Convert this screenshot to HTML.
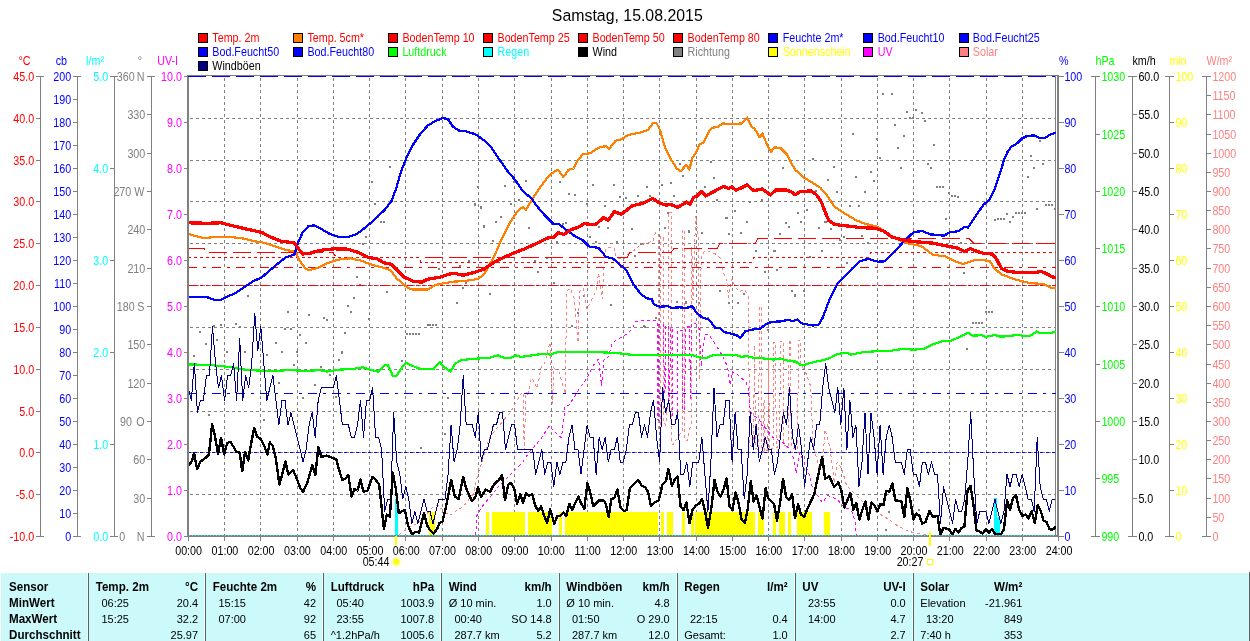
<!DOCTYPE html><html><head><meta charset="utf-8"><title>Samstag, 15.08.2015</title>
<style>html,body{margin:0;padding:0;background:#fff;overflow:hidden}svg{display:block;will-change:transform}text{font-family:"Liberation Sans",sans-serif;font-size:11px}.s{font-size:12px}.b{font-weight:bold;font-size:12px}.t{font-size:17px}</style></head><body>
<svg width="1250" height="641" viewBox="0 0 1250 641">
<rect width="1250" height="641" fill="#fff"/>
<text class="t" transform="translate(627.3,21.0) scale(0.934,1)" text-anchor="middle" fill="#000">Samstag, 15.08.2015</text>
<rect x="198.5" y="33.5" width="9" height="9" fill="#f00" stroke="#000" stroke-width="1" shape-rendering="crispEdges"/>
<text class="s" transform="translate(212.3,42.0) scale(0.895,1)" fill="#f00">Temp. 2m</text>
<rect x="293.6" y="33.5" width="9" height="9" fill="#ff8000" stroke="#000" stroke-width="1" shape-rendering="crispEdges"/>
<text class="s" transform="translate(307.4,42.0) scale(0.895,1)" fill="#f00">Temp. 5cm*</text>
<rect x="388.6" y="33.5" width="9" height="9" fill="#f00" stroke="#000" stroke-width="1" shape-rendering="crispEdges"/>
<text class="s" transform="translate(402.4,42.0) scale(0.895,1)" fill="#f00">BodenTemp 10</text>
<rect x="483.7" y="33.5" width="9" height="9" fill="#f00" stroke="#000" stroke-width="1" shape-rendering="crispEdges"/>
<text class="s" transform="translate(497.5,42.0) scale(0.895,1)" fill="#f00">BodenTemp 25</text>
<rect x="578.7" y="33.5" width="9" height="9" fill="#f00" stroke="#000" stroke-width="1" shape-rendering="crispEdges"/>
<text class="s" transform="translate(592.5,42.0) scale(0.895,1)" fill="#f00">BodenTemp 50</text>
<rect x="673.8" y="33.5" width="9" height="9" fill="#f00" stroke="#000" stroke-width="1" shape-rendering="crispEdges"/>
<text class="s" transform="translate(687.6,42.0) scale(0.895,1)" fill="#f00">BodenTemp 80</text>
<rect x="768.9" y="33.5" width="9" height="9" fill="#00f" stroke="#000" stroke-width="1" shape-rendering="crispEdges"/>
<text class="s" transform="translate(782.7,42.0) scale(0.895,1)" fill="#00f">Feuchte 2m*</text>
<rect x="863.9" y="33.5" width="9" height="9" fill="#00f" stroke="#000" stroke-width="1" shape-rendering="crispEdges"/>
<text class="s" transform="translate(877.7,42.0) scale(0.895,1)" fill="#00f">Bod.Feucht10</text>
<rect x="959.0" y="33.5" width="9" height="9" fill="#00f" stroke="#000" stroke-width="1" shape-rendering="crispEdges"/>
<text class="s" transform="translate(972.8,42.0) scale(0.895,1)" fill="#00f">Bod.Feucht25</text>
<rect x="198.5" y="47.5" width="9" height="9" fill="#00f" stroke="#000" stroke-width="1" shape-rendering="crispEdges"/>
<text class="s" transform="translate(212.3,56.0) scale(0.895,1)" fill="#00f">Bod.Feucht50</text>
<rect x="293.6" y="47.5" width="9" height="9" fill="#00f" stroke="#000" stroke-width="1" shape-rendering="crispEdges"/>
<text class="s" transform="translate(307.4,56.0) scale(0.895,1)" fill="#00f">Bod.Feucht80</text>
<rect x="388.6" y="47.5" width="9" height="9" fill="#0f0" stroke="#000" stroke-width="1" shape-rendering="crispEdges"/>
<text class="s" transform="translate(402.4,56.0) scale(0.895,1)" fill="#0f0">Luftdruck</text>
<rect x="483.7" y="47.5" width="9" height="9" fill="#0ff" stroke="#000" stroke-width="1" shape-rendering="crispEdges"/>
<text class="s" transform="translate(497.5,56.0) scale(0.895,1)" fill="#0ff">Regen</text>
<rect x="578.7" y="47.5" width="9" height="9" fill="#000" stroke="#000" stroke-width="1" shape-rendering="crispEdges"/>
<text class="s" transform="translate(592.5,56.0) scale(0.895,1)" fill="#000">Wind</text>
<rect x="673.8" y="47.5" width="9" height="9" fill="#808080" stroke="#000" stroke-width="1" shape-rendering="crispEdges"/>
<text class="s" transform="translate(687.6,56.0) scale(0.895,1)" fill="#808080">Richtung</text>
<rect x="768.9" y="47.5" width="9" height="9" fill="#ff0" stroke="#000" stroke-width="1" shape-rendering="crispEdges"/>
<text class="s" transform="translate(782.7,56.0) scale(0.895,1)" fill="#ff0">Sonnenschein</text>
<rect x="863.9" y="47.5" width="9" height="9" fill="#f0f" stroke="#000" stroke-width="1" shape-rendering="crispEdges"/>
<text class="s" transform="translate(877.7,56.0) scale(0.895,1)" fill="#f0f">UV</text>
<rect x="959.0" y="47.5" width="9" height="9" fill="#ff8080" stroke="#000" stroke-width="1" shape-rendering="crispEdges"/>
<text class="s" transform="translate(972.8,56.0) scale(0.895,1)" fill="#ff8080">Solar</text>
<rect x="198.5" y="61.5" width="9" height="9" fill="#000080" stroke="#000" stroke-width="1" shape-rendering="crispEdges"/>
<text class="s" transform="translate(212.3,70.0) scale(0.895,1)" fill="#000">Windböen</text>
<g shape-rendering="crispEdges">
<line x1="224.5" y1="78" x2="224.5" y2="535" stroke="#808080" stroke-dasharray="3,3"/>
<line x1="260.5" y1="78" x2="260.5" y2="535" stroke="#808080" stroke-dasharray="3,3"/>
<line x1="297.5" y1="78" x2="297.5" y2="535" stroke="#808080" stroke-dasharray="3,3"/>
<line x1="333.5" y1="78" x2="333.5" y2="535" stroke="#808080" stroke-dasharray="3,3"/>
<line x1="369.5" y1="78" x2="369.5" y2="535" stroke="#808080" stroke-dasharray="3,3"/>
<line x1="405.5" y1="78" x2="405.5" y2="535" stroke="#808080" stroke-dasharray="3,3"/>
<line x1="442.5" y1="78" x2="442.5" y2="535" stroke="#808080" stroke-dasharray="3,3"/>
<line x1="478.5" y1="78" x2="478.5" y2="535" stroke="#808080" stroke-dasharray="3,3"/>
<line x1="514.5" y1="78" x2="514.5" y2="535" stroke="#808080" stroke-dasharray="3,3"/>
<line x1="551.5" y1="78" x2="551.5" y2="535" stroke="#808080" stroke-dasharray="3,3"/>
<line x1="587.5" y1="78" x2="587.5" y2="535" stroke="#808080" stroke-dasharray="3,3"/>
<line x1="623.5" y1="78" x2="623.5" y2="535" stroke="#808080" stroke-dasharray="3,3"/>
<line x1="659.5" y1="78" x2="659.5" y2="535" stroke="#808080" stroke-dasharray="3,3"/>
<line x1="696.5" y1="78" x2="696.5" y2="535" stroke="#808080" stroke-dasharray="3,3"/>
<line x1="732.5" y1="78" x2="732.5" y2="535" stroke="#808080" stroke-dasharray="3,3"/>
<line x1="768.5" y1="78" x2="768.5" y2="535" stroke="#808080" stroke-dasharray="3,3"/>
<line x1="804.5" y1="78" x2="804.5" y2="535" stroke="#808080" stroke-dasharray="3,3"/>
<line x1="841.5" y1="78" x2="841.5" y2="535" stroke="#808080" stroke-dasharray="3,3"/>
<line x1="877.5" y1="78" x2="877.5" y2="535" stroke="#808080" stroke-dasharray="3,3"/>
<line x1="913.5" y1="78" x2="913.5" y2="535" stroke="#808080" stroke-dasharray="3,3"/>
<line x1="949.5" y1="78" x2="949.5" y2="535" stroke="#808080" stroke-dasharray="3,3"/>
<line x1="986.5" y1="78" x2="986.5" y2="535" stroke="#808080" stroke-dasharray="3,3"/>
<line x1="1022.5" y1="78" x2="1022.5" y2="535" stroke="#808080" stroke-dasharray="3,3"/>
<line x1="190" y1="494.5" x2="1056" y2="494.5" stroke="#808080" stroke-dasharray="3,3"/>
<line x1="190" y1="452.5" x2="1056" y2="452.5" stroke="#808080" stroke-dasharray="3,3"/>
<line x1="190" y1="411.5" x2="1056" y2="411.5" stroke="#808080" stroke-dasharray="3,3"/>
<line x1="190" y1="369.5" x2="1056" y2="369.5" stroke="#808080" stroke-dasharray="3,3"/>
<line x1="190" y1="327.5" x2="1056" y2="327.5" stroke="#808080" stroke-dasharray="3,3"/>
<line x1="190" y1="285.5" x2="1056" y2="285.5" stroke="#808080" stroke-dasharray="3,3"/>
<line x1="190" y1="243.5" x2="1056" y2="243.5" stroke="#808080" stroke-dasharray="3,3"/>
<line x1="190" y1="201.5" x2="1056" y2="201.5" stroke="#808080" stroke-dasharray="3,3"/>
<line x1="190" y1="160.5" x2="1056" y2="160.5" stroke="#808080" stroke-dasharray="3,3"/>
<line x1="190" y1="118.5" x2="1056" y2="118.5" stroke="#808080" stroke-dasharray="3,3"/>
<rect x="187" y="75" width="2" height="462" fill="#808080"/>
<line x1="187" y1="75.5" x2="1059" y2="75.5" stroke="#808080"/>
<line x1="1055.5" y1="75" x2="1055.5" y2="536" stroke="#808080"/>
<rect x="1057" y="75" width="2" height="462" fill="#808080"/>
</g>
<clipPath id="cp"><rect x="189" y="76" width="867" height="461"/></clipPath>
<g clip-path="url(#cp)" shape-rendering="crispEdges">
<g shape-rendering="crispEdges" fill="#ff0">
<rect x="429" y="512" width="6" height="24"/>
<rect x="486" y="512" width="3" height="24"/>
<rect x="492" y="512" width="33" height="24"/>
<rect x="528" y="512" width="24" height="24"/>
<rect x="559" y="512" width="3" height="24"/>
<rect x="565" y="512" width="93" height="24"/>
<rect x="661" y="512" width="3" height="24"/>
<rect x="667" y="512" width="6" height="24"/>
<rect x="682" y="512" width="3" height="24"/>
<rect x="691" y="512" width="3" height="24"/>
<rect x="695" y="512" width="60" height="24"/>
<rect x="758" y="512" width="6" height="24"/>
<rect x="773" y="512" width="3" height="24"/>
<rect x="779" y="512" width="6" height="24"/>
<rect x="788" y="512" width="3" height="24"/>
<rect x="797" y="512" width="15" height="24"/>
<rect x="824" y="512" width="6" height="24"/>
</g>
<g shape-rendering="crispEdges" fill="#0ff"><rect x="395" y="499" width="3" height="37"/><rect x="994" y="498" width="3" height="38"/><rect x="997" y="517" width="3" height="19"/></g>
<g shape-rendering="crispEdges" fill="#808080">
<rect x="389" y="166" width="2" height="2"/>
<rect x="371" y="181" width="2" height="2"/>
<rect x="374" y="203" width="2" height="2"/>
<rect x="377" y="216" width="2" height="2"/>
<rect x="380" y="221" width="2" height="2"/>
<rect x="383" y="221" width="2" height="2"/>
<rect x="477" y="186" width="2" height="2"/>
<rect x="474" y="204" width="2" height="2"/>
<rect x="480" y="207" width="2" height="2"/>
<rect x="374" y="203" width="2" height="2"/>
<rect x="380" y="221" width="2" height="2"/>
<rect x="383" y="221" width="2" height="2"/>
<rect x="365" y="236" width="2" height="2"/>
<rect x="362" y="243" width="2" height="2"/>
<rect x="356" y="276" width="2" height="2"/>
<rect x="359" y="284" width="2" height="2"/>
<rect x="386" y="291" width="2" height="2"/>
<rect x="353" y="297" width="2" height="2"/>
<rect x="347" y="305" width="2" height="2"/>
<rect x="350" y="311" width="2" height="2"/>
<rect x="368" y="318" width="2" height="2"/>
<rect x="247" y="295" width="2" height="2"/>
<rect x="287" y="311" width="2" height="2"/>
<rect x="308" y="314" width="2" height="2"/>
<rect x="323" y="317" width="2" height="2"/>
<rect x="326" y="319" width="2" height="2"/>
<rect x="199" y="331" width="2" height="2"/>
<rect x="213" y="325" width="2" height="2"/>
<rect x="220" y="324" width="2" height="2"/>
<rect x="235" y="323" width="2" height="2"/>
<rect x="239" y="326" width="2" height="2"/>
<rect x="216" y="339" width="2" height="2"/>
<rect x="205" y="343" width="2" height="2"/>
<rect x="284" y="328" width="2" height="2"/>
<rect x="290" y="328" width="2" height="2"/>
<rect x="299" y="334" width="2" height="2"/>
<rect x="275" y="342" width="2" height="2"/>
<rect x="281" y="351" width="2" height="2"/>
<rect x="305" y="342" width="2" height="2"/>
<rect x="244" y="351" width="2" height="2"/>
<rect x="344" y="332" width="2" height="2"/>
<rect x="341" y="352" width="2" height="2"/>
<rect x="427" y="324" width="2" height="2"/>
<rect x="429" y="324" width="2" height="2"/>
<rect x="432" y="324" width="2" height="2"/>
<rect x="435" y="324" width="2" height="2"/>
<rect x="406" y="333" width="2" height="2"/>
<rect x="409" y="333" width="2" height="2"/>
<rect x="412" y="333" width="2" height="2"/>
<rect x="415" y="333" width="2" height="2"/>
<rect x="418" y="333" width="2" height="2"/>
<rect x="438" y="268" width="2" height="2"/>
<rect x="459" y="265" width="2" height="2"/>
<rect x="468" y="260" width="2" height="2"/>
<rect x="471" y="271" width="2" height="2"/>
<rect x="465" y="282" width="2" height="2"/>
<rect x="462" y="287" width="2" height="2"/>
<rect x="456" y="302" width="2" height="2"/>
<rect x="474" y="203" width="2" height="2"/>
<rect x="480" y="206" width="2" height="2"/>
<rect x="483" y="225" width="2" height="2"/>
<rect x="193" y="355" width="2" height="2"/>
<rect x="226" y="351" width="2" height="2"/>
<rect x="266" y="354" width="2" height="2"/>
<rect x="281" y="351" width="2" height="2"/>
<rect x="296" y="351" width="2" height="2"/>
<rect x="278" y="382" width="2" height="2"/>
<rect x="302" y="397" width="2" height="2"/>
<rect x="314" y="384" width="2" height="2"/>
<rect x="329" y="374" width="2" height="2"/>
<rect x="335" y="396" width="2" height="2"/>
<rect x="401" y="360" width="2" height="2"/>
<rect x="447" y="397" width="2" height="2"/>
<rect x="420" y="447" width="2" height="2"/>
<rect x="444" y="433" width="2" height="2"/>
<rect x="450" y="425" width="2" height="2"/>
<rect x="263" y="419" width="2" height="2"/>
<rect x="208" y="414" width="2" height="2"/>
<rect x="341" y="351" width="2" height="2"/>
<rect x="338" y="359" width="2" height="2"/>
<rect x="305" y="342" width="2" height="2"/>
<rect x="320" y="366" width="2" height="2"/>
<rect x="293" y="364" width="2" height="2"/>
<rect x="504" y="185" width="2" height="2"/>
<rect x="513" y="181" width="2" height="2"/>
<rect x="525" y="180" width="2" height="2"/>
<rect x="510" y="203" width="2" height="2"/>
<rect x="518" y="199" width="2" height="2"/>
<rect x="480" y="207" width="2" height="2"/>
<rect x="500" y="216" width="2" height="2"/>
<rect x="495" y="221" width="2" height="2"/>
<rect x="483" y="226" width="2" height="2"/>
<rect x="492" y="240" width="2" height="2"/>
<rect x="528" y="227" width="2" height="2"/>
<rect x="559" y="181" width="2" height="2"/>
<rect x="568" y="193" width="2" height="2"/>
<rect x="574" y="194" width="2" height="2"/>
<rect x="565" y="222" width="2" height="2"/>
<rect x="562" y="223" width="2" height="2"/>
<rect x="592" y="184" width="2" height="2"/>
<rect x="586" y="203" width="2" height="2"/>
<rect x="604" y="205" width="2" height="2"/>
<rect x="589" y="236" width="2" height="2"/>
<rect x="598" y="226" width="2" height="2"/>
<rect x="607" y="227" width="2" height="2"/>
<rect x="613" y="184" width="2" height="2"/>
<rect x="619" y="196" width="2" height="2"/>
<rect x="625" y="197" width="2" height="2"/>
<rect x="637" y="195" width="2" height="2"/>
<rect x="616" y="242" width="2" height="2"/>
<rect x="631" y="228" width="2" height="2"/>
<rect x="646" y="186" width="2" height="2"/>
<rect x="661" y="184" width="2" height="2"/>
<rect x="670" y="182" width="2" height="2"/>
<rect x="673" y="195" width="2" height="2"/>
<rect x="682" y="175" width="2" height="2"/>
<rect x="679" y="163" width="2" height="2"/>
<rect x="710" y="161" width="2" height="2"/>
<rect x="713" y="177" width="2" height="2"/>
<rect x="704" y="186" width="2" height="2"/>
<rect x="701" y="190" width="2" height="2"/>
<rect x="716" y="199" width="2" height="2"/>
<rect x="725" y="217" width="2" height="2"/>
<rect x="734" y="210" width="2" height="2"/>
<rect x="746" y="221" width="2" height="2"/>
<rect x="728" y="233" width="2" height="2"/>
<rect x="740" y="232" width="2" height="2"/>
<rect x="701" y="232" width="2" height="2"/>
<rect x="688" y="231" width="2" height="2"/>
<rect x="664" y="227" width="2" height="2"/>
<rect x="749" y="201" width="2" height="2"/>
<rect x="761" y="199" width="2" height="2"/>
<rect x="755" y="250" width="2" height="2"/>
<rect x="489" y="293" width="2" height="2"/>
<rect x="537" y="271" width="2" height="2"/>
<rect x="553" y="282" width="2" height="2"/>
<rect x="534" y="260" width="2" height="2"/>
<rect x="546" y="257" width="2" height="2"/>
<rect x="583" y="295" width="2" height="2"/>
<rect x="577" y="312" width="2" height="2"/>
<rect x="571" y="325" width="2" height="2"/>
<rect x="610" y="304" width="2" height="2"/>
<rect x="634" y="255" width="2" height="2"/>
<rect x="676" y="301" width="2" height="2"/>
<rect x="685" y="302" width="2" height="2"/>
<rect x="698" y="302" width="2" height="2"/>
<rect x="707" y="317" width="2" height="2"/>
<rect x="643" y="325" width="2" height="2"/>
<rect x="655" y="317" width="2" height="2"/>
<rect x="719" y="290" width="2" height="2"/>
<rect x="737" y="302" width="2" height="2"/>
<rect x="743" y="293" width="2" height="2"/>
<rect x="755" y="250" width="2" height="2"/>
<rect x="764" y="271" width="2" height="2"/>
<rect x="773" y="250" width="2" height="2"/>
<rect x="767" y="329" width="2" height="2"/>
<rect x="616" y="241" width="2" height="2"/>
<rect x="640" y="243" width="2" height="2"/>
<rect x="595" y="241" width="2" height="2"/>
<rect x="556" y="241" width="2" height="2"/>
<rect x="492" y="240" width="2" height="2"/>
<rect x="882" y="93" width="2" height="2"/>
<rect x="891" y="93" width="2" height="2"/>
<rect x="906" y="111" width="2" height="2"/>
<rect x="915" y="109" width="2" height="2"/>
<rect x="921" y="112" width="2" height="2"/>
<rect x="909" y="117" width="2" height="2"/>
<rect x="912" y="117" width="2" height="2"/>
<rect x="924" y="120" width="2" height="2"/>
<rect x="894" y="124" width="2" height="2"/>
<rect x="903" y="135" width="2" height="2"/>
<rect x="897" y="147" width="2" height="2"/>
<rect x="876" y="138" width="2" height="2"/>
<rect x="852" y="133" width="2" height="2"/>
<rect x="879" y="157" width="2" height="2"/>
<rect x="900" y="167" width="2" height="2"/>
<rect x="933" y="144" width="2" height="2"/>
<rect x="927" y="163" width="2" height="2"/>
<rect x="930" y="167" width="2" height="2"/>
<rect x="870" y="171" width="2" height="2"/>
<rect x="873" y="180" width="2" height="2"/>
<rect x="864" y="191" width="2" height="2"/>
<rect x="855" y="176" width="2" height="2"/>
<rect x="833" y="166" width="2" height="2"/>
<rect x="827" y="179" width="2" height="2"/>
<rect x="836" y="191" width="2" height="2"/>
<rect x="812" y="158" width="2" height="2"/>
<rect x="782" y="167" width="2" height="2"/>
<rect x="815" y="190" width="2" height="2"/>
<rect x="849" y="205" width="2" height="2"/>
<rect x="858" y="205" width="2" height="2"/>
<rect x="806" y="209" width="2" height="2"/>
<rect x="797" y="212" width="2" height="2"/>
<rect x="785" y="222" width="2" height="2"/>
<rect x="800" y="221" width="2" height="2"/>
<rect x="824" y="221" width="2" height="2"/>
<rect x="936" y="186" width="2" height="2"/>
<rect x="939" y="186" width="2" height="2"/>
<rect x="942" y="186" width="2" height="2"/>
<rect x="948" y="192" width="2" height="2"/>
<rect x="951" y="195" width="2" height="2"/>
<rect x="954" y="195" width="2" height="2"/>
<rect x="957" y="196" width="2" height="2"/>
<rect x="945" y="218" width="2" height="2"/>
<rect x="994" y="219" width="2" height="2"/>
<rect x="997" y="218" width="2" height="2"/>
<rect x="1000" y="218" width="2" height="2"/>
<rect x="1003" y="218" width="2" height="2"/>
<rect x="1006" y="213" width="2" height="2"/>
<rect x="1009" y="221" width="2" height="2"/>
<rect x="1012" y="216" width="2" height="2"/>
<rect x="1015" y="212" width="2" height="2"/>
<rect x="1018" y="212" width="2" height="2"/>
<rect x="1021" y="212" width="2" height="2"/>
<rect x="1024" y="212" width="2" height="2"/>
<rect x="1036" y="208" width="2" height="2"/>
<rect x="1045" y="204" width="2" height="2"/>
<rect x="1048" y="204" width="2" height="2"/>
<rect x="1051" y="204" width="2" height="2"/>
<rect x="1054" y="208" width="2" height="2"/>
<rect x="1027" y="176" width="2" height="2"/>
<rect x="1033" y="167" width="2" height="2"/>
<rect x="1030" y="155" width="2" height="2"/>
<rect x="1042" y="163" width="2" height="2"/>
<rect x="1039" y="140" width="2" height="2"/>
<rect x="779" y="233" width="2" height="2"/>
<rect x="785" y="222" width="2" height="2"/>
<rect x="788" y="226" width="2" height="2"/>
<rect x="773" y="250" width="2" height="2"/>
<rect x="776" y="269" width="2" height="2"/>
<rect x="791" y="290" width="2" height="2"/>
<rect x="794" y="295" width="2" height="2"/>
<rect x="803" y="290" width="2" height="2"/>
<rect x="821" y="250" width="2" height="2"/>
<rect x="818" y="227" width="2" height="2"/>
<rect x="830" y="228" width="2" height="2"/>
<rect x="839" y="239" width="2" height="2"/>
<rect x="843" y="236" width="2" height="2"/>
<rect x="861" y="235" width="2" height="2"/>
<rect x="867" y="242" width="2" height="2"/>
<rect x="846" y="262" width="2" height="2"/>
<rect x="809" y="256" width="2" height="2"/>
<rect x="963" y="272" width="2" height="2"/>
<rect x="966" y="348" width="2" height="2"/>
<rect x="972" y="322" width="2" height="2"/>
<rect x="975" y="322" width="2" height="2"/>
<rect x="978" y="322" width="2" height="2"/>
<rect x="981" y="322" width="2" height="2"/>
<rect x="985" y="311" width="2" height="2"/>
<rect x="988" y="311" width="2" height="2"/>
<rect x="991" y="311" width="2" height="2"/>
<rect x="945" y="218" width="2" height="2"/>
<rect x="1036" y="208" width="2" height="2"/>
<rect x="960" y="242" width="2" height="2"/>
<rect x="888" y="511" width="2" height="2"/>
<rect x="885" y="529" width="2" height="2"/>
<rect x="918" y="509" width="2" height="2"/>
<rect x="637" y="195" width="2" height="2"/>
<rect x="649" y="195" width="2" height="2"/>
<rect x="673" y="195" width="2" height="2"/>
<rect x="667" y="212" width="2" height="2"/>
<rect x="664" y="227" width="2" height="2"/>
<rect x="631" y="228" width="2" height="2"/>
<rect x="688" y="230" width="2" height="2"/>
<rect x="701" y="232" width="2" height="2"/>
<rect x="634" y="255" width="2" height="2"/>
<rect x="716" y="199" width="2" height="2"/>
<rect x="726" y="217" width="2" height="2"/>
<rect x="734" y="210" width="2" height="2"/>
<rect x="746" y="221" width="2" height="2"/>
<rect x="740" y="232" width="2" height="2"/>
<rect x="728" y="233" width="2" height="2"/>
<rect x="761" y="199" width="2" height="2"/>
<rect x="785" y="222" width="2" height="2"/>
<rect x="788" y="226" width="2" height="2"/>
<rect x="779" y="233" width="2" height="2"/>
<rect x="797" y="212" width="2" height="2"/>
<rect x="800" y="221" width="2" height="2"/>
<rect x="806" y="209" width="2" height="2"/>
<rect x="818" y="227" width="2" height="2"/>
<rect x="825" y="221" width="2" height="2"/>
<rect x="755" y="250" width="2" height="2"/>
<rect x="774" y="250" width="2" height="2"/>
<rect x="764" y="271" width="2" height="2"/>
<rect x="776" y="269" width="2" height="2"/>
<rect x="809" y="256" width="2" height="2"/>
<rect x="821" y="250" width="2" height="2"/>
<rect x="791" y="290" width="2" height="2"/>
<rect x="794" y="294" width="2" height="2"/>
<rect x="719" y="290" width="2" height="2"/>
<rect x="737" y="302" width="2" height="2"/>
<rect x="728" y="302" width="2" height="2"/>
<rect x="676" y="301" width="2" height="2"/>
<rect x="685" y="301" width="2" height="2"/>
<rect x="698" y="302" width="2" height="2"/>
<rect x="707" y="317" width="2" height="2"/>
<rect x="655" y="317" width="2" height="2"/>
<rect x="644" y="326" width="2" height="2"/>
<rect x="767" y="329" width="2" height="2"/>
</g>
<path d="M398.8,535.0 L408.4,527.7 L418.0,522.9 L425.2,515.7 L432.4,507.3 L437.2,504.9 L449.2,515.7 L463.6,506.1 L473.2,494.1 L477.4,476.3 L489.4,437.8 L499.0,425.8 L511.0,411.4 L520.6,394.6 L523.0,392.0 L524.2,449.9 L526.0,392.0 L528.7,396.0 L529.5,383.2 L532.1,378.1 L537.2,388.3 L541.0,367.9 L544.9,362.8 L550.0,342.3 L552.5,403.7 L553.8,367.9 L559.0,372.0 L565.3,393.5 L566.6,291.2 L570.4,288.6 L574.3,298.8 L578.1,342.3 L579.4,291.2 L583.2,288.6 L587.1,309.0 L590.9,301.4 L596.0,291.2 L598.6,273.2 L602.4,298.8 L603.7,268.1 L606.2,247.7 L613.9,247.7 L616.5,257.9 L624.1,259.2 L629.3,252.8 L634.4,250.2 L640.2,245.0 L653.0,241.2 L655.6,232.2 L656.2,232.8 L658.1,233.0 L658.1,430.0 L660.9,430.0 L660.9,236.0 L663.4,238.0 L663.4,420.0 L665.5,425.0 L668.4,400.0 L668.4,212.0 L671.2,212.0 L671.2,440.0 L673.0,445.0 L682.5,430.0 L682.5,230.0 L684.3,230.0 L684.3,440.0 L687.5,440.0 L691.8,420.0 L691.8,247.0 L693.0,300.0 L695.6,216.0 L698.4,237.5 L699.3,380.0 L701.2,256.0 L705.0,250.6 L708.7,251.5 L716.2,254.3 L720.0,258.0 L723.7,273.0 L727.4,282.4 L728.3,297.4 L732.0,278.7 L734.9,286.1 L738.6,291.8 L744.3,289.9 L747.6,293.6 L748.5,300.0 L749.5,445.0 L753.5,448.0 L754.5,345.0 L755.5,448.0 L758.5,450.0 L759.5,306.0 L761.0,306.0 L762.0,450.0 L763.5,452.0 L764.0,400.0 L764.8,452.0 L767.8,450.0 L768.6,355.0 L769.4,450.0 L773.0,448.0 L774.0,342.0 L775.5,342.0 L776.3,448.0 L779.5,445.0 L780.5,341.0 L783.2,341.0 L784.0,445.0 L788.3,447.0 L789.2,340.0 L790.5,340.0 L791.2,447.0 L797.5,450.0 L798.5,340.0 L800.4,340.0 L801.0,364.5 L806.0,373.5 L810.6,386.0 L813.0,443.7 L819.0,468.0 L822.0,470.0 L825.1,429.4 L829.9,447.5 L834.4,483.0 L837.1,461.9 L841.9,469.1 L846.7,485.9 L861.1,500.3 L873.1,509.9 L885.1,517.1 L897.1,525.5 L909.1,531.5 L918.7,533.5 L926.0,535.0" fill="none" stroke="#ff8080" stroke-width="1" stroke-linejoin="round" stroke-dasharray="3,3" shape-rendering="crispEdges"/>
<path d="M475.7,535.0 L476.9,515.7 L479.3,510.9 L485.0,502.5 L489.4,497.9 L499.0,485.9 L511.0,473.9 L523.0,461.9 L529.0,452.3 L539.9,440.2 L549.5,425.8 L554.3,431.8 L561.5,437.8 L565.1,406.6 L568.7,405.4 L575.9,394.6 L579.4,388.3 L587.1,378.1 L593.5,365.3 L598.6,358.9 L601.6,385.8 L603.7,360.2 L608.8,356.4 L611.4,344.9 L616.5,339.7 L624.1,335.9 L631.8,329.5 L635.7,321.8 L643.1,320.5 L655.3,320.3 L657.0,322.0 L657.5,420.0 L658.5,420.0 L659.0,324.0 L663.7,324.0 L664.2,392.0 L665.3,392.0 L665.8,326.0 L668.2,326.0 L668.7,400.0 L669.8,400.0 L670.3,328.0 L672.0,328.0 L672.5,416.0 L677.5,416.0 L678.0,330.0 L682.3,330.0 L682.8,410.0 L684.8,410.0 L685.3,328.0 L689.8,326.0 L690.2,400.0 L690.8,400.0 L691.2,325.0 L695.6,323.1 L699.3,328.7 L701.2,366.2 L703.0,347.5 L705.0,334.3 L708.7,334.3 L716.2,345.6 L721.8,354.9 L727.4,366.2 L730.2,384.9 L732.1,371.8 L738.6,375.5 L746.1,382.1 L748.4,388.7 L749.9,407.4 L751.7,414.9 L759.2,418.6 L762.0,426.1 L762.8,424.6 L773.0,437.4 L783.2,442.5 L788.3,447.6 L793.5,457.9 L796.0,473.2 L799.8,452.8 L808.8,473.2 L811.8,485.9 L819.0,497.9 L822.7,502.7 L827.5,495.5 L837.1,499.1 L844.3,507.5 L851.5,509.9 L855.1,521.9 L856.3,535.1" fill="none" stroke="#f0f" stroke-width="1" stroke-linejoin="round" stroke-dasharray="3,3" shape-rendering="crispEdges"/>
<path d="M188.0,248.5 L204.0,248.5 L205.0,252.5 L333.0,252.5 L335.0,255.5 L335.5,255.5" fill="none" stroke="#f00" stroke-width="1" stroke-dasharray="18,6" shape-rendering="crispEdges"/>
<path d="M424.8,257.5 L627.0,257.5 L630.0,252.5 L671.0,252.5 L674.0,248.5 L717.0,248.5 L720.0,243.5 L755.0,243.5 L758.0,238.5 L969.0,238.5 L974.0,243.5 L1054.0,243.5 L1056.0,247.5 L1057.0,247.5" fill="none" stroke="#f00" stroke-width="1" stroke-dasharray="18,6" shape-rendering="crispEdges"/>
<path d="M188.0,257.5 L419.0,257.5 L421.0,262.5 L751.0,262.5 L754.0,257.5 L868.0,257.5 L871.0,252.5 L1057.0,252.5" fill="none" stroke="#f00" stroke-width="1" stroke-dasharray="3,3" shape-rendering="crispEdges"/>
<path d="M188.0,267.5 L1057.0,267.5" fill="none" stroke="#f00" stroke-width="1" stroke-dasharray="9,6,3,6" shape-rendering="crispEdges"/>
<path d="M188.0,285.5 L1057.0,285.5" fill="none" stroke="#f00" stroke-width="1" stroke-dasharray="9,3,3,3,3,3" shape-rendering="crispEdges"/>
<path d="M188.0,393.5 L1057.0,393.5" fill="none" stroke="#00f" stroke-width="1" stroke-dasharray="9,6,3,6" shape-rendering="crispEdges"/>
<path d="M188.0,452.5 L1057.0,452.5" fill="none" stroke="#00f" stroke-width="1" stroke-dasharray="3,3" shape-rendering="crispEdges"/>
<path d="M188.6,364.4 L209.0,364.9 L228.2,366.8 L245.1,369.7 L264.3,370.9 L276.3,371.3 L290.7,369.7 L302.7,371.3 L319.5,370.1 L326.7,371.6 L338.7,369.7 L353.1,368.9 L362.8,367.3 L370.0,369.7 L378.4,371.6 L384.4,365.3 L388.0,365.3 L392.8,375.7 L396.4,375.7 L401.2,368.5 L406.0,362.9 L410.8,365.3 L420.4,368.9 L433.6,368.9 L439.6,362.0 L444.4,367.3 L450.4,371.6 L455.2,363.7 L460.5,360.2 L473.2,358.9 L489.4,357.7 L497.8,355.3 L503.8,357.7 L511.0,357.7 L515.8,355.3 L520.6,357.0 L532.7,355.3 L544.7,353.6 L550.7,354.8 L556.7,352.4 L571.1,352.2 L585.5,352.4 L593.9,351.7 L602.3,352.4 L616.7,352.9 L631.1,354.8 L655.2,354.8 L674.4,354.8 L691.2,354.8 L698.4,357.2 L705.6,358.2 L712.8,355.3 L724.8,354.8 L736.8,355.3 L741.6,357.0 L746.4,356.0 L753.6,357.7 L763.2,358.4 L774.2,359.6 L779.3,358.5 L789.5,361.1 L795.9,361.6 L799.7,364.7 L804.9,364.7 L812.5,362.4 L822.8,360.3 L830.4,357.8 L838.1,353.9 L847.1,352.7 L850.9,354.5 L863.7,352.1 L875.5,351.3 L889.9,350.9 L903.1,348.9 L913.9,349.7 L923.5,348.9 L933.1,344.1 L942.8,341.2 L950.0,341.2 L959.6,336.9 L968.0,332.6 L972.8,335.7 L981.2,335.2 L986.0,336.9 L994.4,335.0 L999.2,336.4 L1005.2,336.4 L1017.2,335.0 L1029.2,336.4 L1036.4,331.6 L1041.2,333.3 L1050.8,332.8 L1056.4,331.6" fill="none" stroke="#0f0" stroke-width="2.2" stroke-linejoin="round" />
<path d="M188.6,234.1 L197.0,236.5 L205.4,238.4 L213.8,236.8 L228.2,236.8 L242.6,238.4 L254.7,241.3 L264.3,242.8 L276.3,246.8 L285.9,250.0 L295.5,251.6 L299.1,260.0 L305.1,268.0 L308.7,270.1 L317.1,268.0 L329.1,262.5 L341.1,258.9 L350.7,258.4 L360.4,260.5 L372.4,264.9 L382.0,267.3 L390.4,270.1 L396.4,278.1 L403.6,284.6 L410.8,289.4 L427.6,289.6 L434.8,285.3 L440.0,284.0 L452.8,281.7 L465.6,280.9 L478.4,278.9 L484.8,273.2 L491.2,261.7 L495.4,253.7 L501.4,239.3 L508.6,224.9 L517.0,211.7 L523.0,206.9 L525.9,210.0 L532.7,198.5 L539.9,187.7 L547.1,178.1 L551.9,173.3 L557.9,169.7 L563.4,176.9 L568.7,169.7 L573.5,168.5 L577.1,161.3 L583.1,154.0 L590.3,153.3 L598.7,147.6 L605.9,146.1 L609.0,149.2 L615.5,140.8 L621.5,139.2 L628.7,134.8 L640.7,132.4 L648.0,130.0 L652.8,123.3 L656.4,122.8 L660.0,130.0 L664.8,146.8 L670.8,158.9 L676.8,168.5 L680.4,171.3 L686.4,164.9 L689.3,169.7 L692.4,157.7 L696.0,152.8 L699.6,144.4 L703.2,142.8 L709.2,131.2 L712.8,127.6 L717.6,127.1 L722.4,123.5 L732.0,124.0 L741.6,123.5 L747.2,117.5 L751.2,126.4 L754.8,128.8 L759.6,137.2 L762.5,133.6 L766.9,144.4 L771.0,151.7 L774.6,147.3 L780.6,148.1 L786.6,154.1 L795.0,169.7 L804.6,178.1 L813.0,182.9 L820.3,187.7 L827.5,196.1 L834.7,206.9 L844.3,213.2 L856.3,220.4 L865.9,224.0 L877.9,226.9 L887.5,233.6 L897.1,238.9 L906.7,243.2 L921.1,246.1 L933.1,254.8 L945.2,256.4 L954.8,261.3 L963.2,264.1 L969.2,262.0 L976.4,259.6 L989.6,260.8 L994.4,268.5 L1001.6,274.5 L1014.8,279.3 L1029.2,282.9 L1043.6,284.1 L1050.8,287.7 L1056.4,288.2" fill="none" stroke="#ff8000" stroke-width="2.2" stroke-linejoin="round" />
<path d="M188.6,297.0 L206.6,297.0 L213.8,299.7 L221.0,299.7 L228.2,296.1 L235.4,293.2 L245.1,286.5 L252.3,281.7 L261.9,277.3 L269.1,270.9 L278.7,262.9 L285.9,257.2 L294.3,254.8 L297.9,243.2 L302.7,232.4 L308.7,225.9 L314.7,225.5 L321.9,229.3 L329.1,233.6 L338.7,236.8 L348.3,236.8 L356.8,234.1 L365.2,227.6 L370.0,223.6 L377.2,217.0 L384.4,210.1 L391.6,200.9 L396.4,187.7 L401.2,170.9 L406.0,158.9 L413.2,144.5 L420.4,133.7 L427.6,125.7 L434.8,121.2 L443.2,118.0 L448.0,119.2 L452.8,126.4 L458.8,130.5 L466.0,131.3 L475.7,134.4 L484.6,140.8 L491.8,148.0 L499.0,158.9 L507.4,170.9 L514.6,179.3 L523.0,191.3 L531.5,198.5 L537.5,206.9 L545.9,216.5 L553.1,223.7 L559.1,224.2 L567.5,230.9 L575.9,236.9 L583.1,240.5 L589.1,246.5 L598.7,248.0 L605.9,256.8 L613.1,258.7 L619.1,264.0 L626.3,270.0 L633.5,284.4 L640.7,294.0 L646.8,298.4 L651.6,298.9 L654.0,304.4 L660.0,306.8 L667.2,306.1 L672.0,308.0 L679.2,307.3 L686.4,308.0 L692.4,306.1 L696.0,312.1 L702.0,317.3 L709.2,319.7 L715.2,327.7 L720.0,327.7 L723.6,332.0 L729.6,333.2 L736.8,335.4 L740.4,338.0 L745.2,331.3 L753.6,329.4 L760.8,328.4 L765.0,324.9 L771.0,322.0 L781.8,321.3 L789.0,319.6 L792.6,321.3 L797.4,319.6 L801.0,323.2 L813.0,325.6 L819.0,324.4 L822.7,317.7 L829.9,298.5 L837.1,284.1 L841.9,278.8 L849.1,272.1 L859.9,261.3 L868.3,258.9 L877.9,261.7 L885.1,261.3 L894.7,251.6 L904.3,240.8 L913.9,231.9 L922.3,231.2 L930.7,234.4 L944.0,235.6 L950.0,232.4 L958.4,231.2 L964.4,226.9 L968.0,227.6 L976.4,214.8 L983.6,204.6 L989.6,199.7 L994.4,190.1 L999.2,175.7 L1004.0,160.1 L1007.6,151.7 L1011.2,146.9 L1017.2,143.3 L1022.0,138.5 L1026.8,136.1 L1034.0,135.3 L1038.8,137.7 L1044.8,138.0 L1049.6,134.9 L1055.7,132.9" fill="none" stroke="#00f" stroke-width="2.3" stroke-linejoin="round" />
<path d="M188.6,222.8 L206.6,223.3 L221.0,222.8 L233.0,225.9 L247.5,229.3 L261.9,232.4 L269.1,236.5 L281.1,241.3 L294.3,242.8 L297.9,248.0 L302.7,254.0 L309.9,253.3 L319.5,250.4 L333.9,248.8 L348.3,249.2 L358.0,252.4 L367.6,257.2 L377.2,258.9 L384.4,262.9 L391.6,264.4 L396.4,269.7 L403.6,276.9 L413.2,281.2 L421.6,282.2 L427.6,279.3 L439.6,277.3 L447.7,274.5 L454.1,273.2 L463.0,275.3 L473.2,272.7 L483.5,269.4 L493.7,262.5 L503.9,257.4 L514.2,252.8 L524.4,249.0 L535.1,244.1 L547.1,238.1 L554.3,236.9 L557.9,232.6 L563.9,234.5 L571.1,229.7 L578.3,227.3 L584.3,223.7 L595.1,224.9 L603.5,217.7 L608.3,220.1 L614.3,211.7 L621.5,214.1 L632.3,205.7 L643.1,203.3 L652.8,198.5 L660.0,203.3 L666.0,205.2 L670.8,204.5 L678.0,207.4 L686.4,202.1 L690.0,204.5 L693.6,197.3 L697.2,196.1 L702.0,191.3 L705.6,196.1 L715.2,190.8 L723.6,186.5 L728.4,188.4 L732.0,187.0 L735.6,190.1 L741.6,187.7 L747.2,184.8 L753.6,190.8 L762.0,188.9 L770.5,194.9 L775.8,190.1 L786.6,190.1 L791.4,191.8 L795.0,194.9 L799.8,191.8 L810.6,190.8 L816.6,194.9 L821.4,202.1 L825.1,212.0 L828.7,220.4 L834.7,224.5 L846.7,225.9 L861.1,227.6 L875.5,228.3 L883.9,231.2 L892.3,237.2 L904.3,240.4 L918.7,242.0 L933.1,243.2 L945.2,245.6 L957.2,248.0 L964.4,251.6 L970.4,248.5 L976.4,251.2 L983.6,253.3 L992.0,254.0 L995.6,257.6 L1001.6,268.5 L1007.6,271.3 L1019.6,272.8 L1031.6,272.8 L1041.2,271.6 L1046.0,273.3 L1052.0,276.9 L1056.4,277.6" fill="none" stroke="#f00" stroke-width="3.3" stroke-linejoin="round" />
<path d="M188.3,387.9 L191.3,400.3 L194.3,363.2 L197.4,412.6 L200.4,400.3 L203.4,400.3 L206.4,375.6 L209.4,375.6 L212.5,326.2 L215.5,363.2 L218.5,387.9 L221.5,375.6 L224.6,400.3 L227.6,375.6 L230.6,375.6 L233.6,363.2 L236.6,400.3 L239.7,338.6 L242.7,400.3 L245.7,375.6 L248.7,387.9 L251.7,363.2 L254.8,313.9 L257.8,350.9 L260.8,326.2 L263.8,363.2 L266.8,400.3 L269.9,387.9 L272.9,375.6 L275.9,400.3 L278.9,424.9 L282.0,400.3 L285.0,400.3 L288.0,424.9 L291.0,412.6 L294.0,424.9 L297.1,437.3 L300.1,449.6 L303.1,462.0 L306.1,449.6 L309.1,424.9 L312.2,412.6 L315.2,437.3 L318.2,400.3 L321.2,387.9 L324.2,387.9 L327.3,387.9 L330.3,387.9 L333.3,387.9 L336.3,375.6 L339.4,400.3 L342.4,424.9 L345.4,424.9 L348.4,424.9 L351.4,437.3 L354.5,437.3 L357.5,424.9 L360.5,400.3 L363.5,437.3 L366.5,400.3 L369.6,400.3 L372.6,387.9 L375.6,437.3 L378.6,437.3 L381.6,449.6 L384.7,511.3 L387.7,499.0 L390.7,499.0 L393.7,412.6 L396.7,462.0 L399.8,474.3 L402.8,499.0 L405.8,486.6 L408.8,499.0 L411.9,523.7 L414.9,511.3 L417.9,523.7 L420.9,511.3 L423.9,499.0 L427.0,511.3 L430.0,511.3 L433.0,523.7 L436.0,511.3 L439.0,499.0 L442.1,499.0 L445.1,499.0 L448.1,474.3 L451.1,424.9 L454.1,462.0 L457.2,449.6 L460.2,424.9 L463.2,375.6 L466.2,424.9 L469.3,424.9 L472.3,424.9 L475.3,437.3 L478.3,412.6 L481.3,462.0 L484.4,449.6 L487.4,449.6 L490.4,437.3 L493.4,424.9 L496.4,424.9 L499.5,412.6 L502.5,412.6 L505.5,449.6 L508.5,437.3 L511.5,424.9 L514.6,424.9 L517.6,449.6 L520.6,449.6 L523.6,449.6 L526.7,449.6 L529.7,449.6 L532.7,449.6 L535.7,474.3 L538.7,462.0 L541.8,449.6 L544.8,474.3 L547.8,462.0 L550.8,462.0 L553.8,486.6 L556.9,462.0 L559.9,474.3 L562.9,462.0 L565.9,462.0 L568.9,437.3 L572.0,424.9 L575.0,449.6 L578.0,449.6 L581.0,474.3 L584.1,449.6 L587.1,424.9 L590.1,437.3 L593.1,437.3 L596.1,474.3 L599.2,437.3 L602.2,449.6 L605.2,437.3 L608.2,462.0 L611.2,449.6 L614.3,449.6 L617.3,437.3 L620.3,462.0 L623.3,462.0 L626.3,449.6 L629.4,424.9 L632.4,424.9 L635.4,412.6 L638.4,412.6 L641.5,437.3 L644.5,424.9 L647.5,437.3 L650.5,412.6 L653.5,400.3 L656.6,437.3 L659.6,462.0 L662.6,387.9 L665.6,412.6 L668.6,400.3 L671.7,424.9 L674.7,424.9 L677.7,412.6 L680.7,474.3 L683.7,474.3 L686.8,462.0 L689.8,486.6 L692.8,462.0 L695.8,462.0 L698.8,462.0 L701.9,437.3 L704.9,474.3 L707.9,511.3 L710.9,462.0 L714.0,387.9 L717.0,437.3 L720.0,424.9 L723.0,424.9 L726.0,400.3 L729.1,400.3 L732.1,462.0 L735.1,412.6 L738.1,449.6 L741.1,449.6 L744.2,499.0 L747.2,474.3 L750.2,412.6 L753.2,449.6 L756.2,424.9 L759.3,462.0 L762.3,449.6 L765.3,437.3 L768.3,449.6 L771.4,449.6 L774.4,474.3 L777.4,462.0 L780.4,437.3 L783.4,412.6 L786.5,424.9 L789.5,387.9 L792.5,437.3 L795.5,449.6 L798.5,424.9 L801.6,449.6 L804.6,486.6 L807.6,462.0 L810.6,437.3 L813.6,449.6 L816.7,424.9 L819.7,424.9 L822.7,387.9 L825.7,363.2 L828.8,387.9 L831.8,400.3 L834.8,412.6 L837.8,387.9 L840.8,424.9 L843.9,387.9 L846.9,449.6 L849.9,400.3 L852.9,437.3 L855.9,424.9 L859.0,486.6 L862.0,462.0 L865.0,412.6 L868.0,474.3 L871.0,412.6 L874.1,437.3 L877.1,474.3 L880.1,424.9 L883.1,474.3 L886.2,437.3 L889.2,424.9 L892.2,437.3 L895.2,462.0 L898.2,462.0 L901.3,462.0 L904.3,474.3 L907.3,449.6 L910.3,449.6 L913.3,474.3 L916.4,474.3 L919.4,486.6 L922.4,462.0 L925.4,462.0 L928.4,474.3 L931.5,462.0 L934.5,474.3 L937.5,474.3 L940.5,523.7 L943.5,486.6 L946.6,499.0 L949.6,511.3 L952.6,523.7 L955.6,499.0 L958.7,511.3 L961.7,511.3 L964.7,499.0 L967.7,462.0 L970.7,412.6 L973.8,474.3 L976.8,523.7 L979.8,511.3 L982.8,511.3 L985.8,511.3 L988.9,523.7 L991.9,511.3 L994.9,499.0 L997.9,511.3 L1000.9,523.7 L1004.0,511.3 L1007.0,474.3 L1010.0,486.6 L1013.0,474.3 L1016.1,474.3 L1019.1,486.6 L1022.1,474.3 L1025.1,486.6 L1028.1,499.0 L1031.2,499.0 L1034.2,511.3 L1037.2,437.3 L1040.2,486.6 L1043.2,499.0 L1046.3,499.0 L1049.3,511.3 L1052.3,499.0 L1055.3,499.0" fill="none" stroke="#000080" stroke-width="1" stroke-linejoin="round" shape-rendering="crispEdges"/>
<path d="M188.6,465.2 L191.7,461.6 L194.1,453.2 L197.0,468.9 L200.6,461.6 L205.4,458.0 L209.0,454.4 L212.1,424.4 L215.0,436.4 L218.1,454.4 L221.0,437.6 L224.2,454.4 L227.0,443.6 L230.2,441.7 L233.0,446.0 L236.6,452.0 L239.8,452.8 L242.2,471.3 L245.1,452.0 L248.2,460.4 L251.1,443.6 L254.2,428.0 L257.1,436.9 L260.7,438.8 L264.3,446.0 L267.4,454.4 L269.8,442.4 L272.7,446.0 L275.8,458.0 L279.4,484.5 L282.3,473.7 L285.4,461.6 L288.3,474.4 L293.1,470.0 L296.7,478.5 L300.3,488.1 L303.2,491.7 L307.5,482.1 L312.3,465.2 L315.4,474.9 L318.3,447.2 L321.4,456.8 L326.7,455.6 L331.5,457.6 L336.3,459.2 L339.5,471.3 L342.3,479.7 L345.5,478.5 L348.3,474.9 L351.5,496.5 L354.3,489.3 L357.5,490.5 L360.4,479.7 L363.5,491.7 L367.6,490.5 L372.4,476.8 L375.5,479.7 L379.1,484.5 L381.5,506.1 L383.9,528.9 L386.8,514.5 L389.9,516.9 L392.8,472.5 L395.9,489.3 L398.8,513.3 L404.8,509.7 L407.9,525.3 L412.0,534.4 L415.1,532.0 L419.2,532.5 L424.0,512.8 L427.1,525.3 L430.0,530.1 L433.6,533.7 L437.2,528.9 L439.6,522.9 L442.5,521.7 L445.6,508.5 L448.7,492.9 L451.2,479.7 L454.8,496.5 L458.8,498.9 L463.2,476.8 L466.5,489.3 L472.0,501.3 L475.7,496.5 L478.1,487.1 L481.0,496.7 L485.8,489.5 L490.1,491.9 L493.0,485.9 L496.1,482.3 L499.0,479.9 L502.1,475.1 L505.0,500.3 L508.1,484.7 L511.0,483.0 L514.2,488.3 L517.0,503.9 L520.2,494.3 L523.0,502.7 L526.2,493.1 L529.0,495.5 L532.2,494.3 L535.1,505.1 L538.2,511.1 L541.1,506.3 L544.2,515.9 L547.1,523.1 L550.2,509.4 L554.3,523.8 L557.4,515.9 L560.3,515.9 L563.4,512.3 L566.3,515.9 L569.4,503.9 L572.3,509.9 L575.4,502.7 L578.3,496.7 L581.4,503.9 L584.3,508.7 L587.4,483.0 L590.3,493.1 L593.4,506.3 L599.4,500.3 L603.5,500.3 L605.9,503.9 L608.6,517.1 L611.4,499.1 L614.3,497.9 L617.4,489.5 L620.6,507.5 L623.9,511.1 L626.8,509.9 L629.9,488.3 L634.7,483.5 L638.3,479.9 L641.9,485.9 L645.1,487.1 L648.0,491.9 L651.1,506.3 L654.0,502.7 L658.8,500.3 L662.4,484.7 L666.0,481.1 L668.4,469.1 L672.0,485.9 L675.1,478.7 L677.5,476.3 L680.6,506.3 L683.5,509.9 L686.4,502.7 L689.5,523.1 L692.6,509.9 L696.0,505.1 L698.9,503.9 L702.0,499.1 L705.1,511.1 L708.0,527.9 L711.6,506.3 L714.5,479.9 L717.6,491.9 L720.5,496.7 L723.6,489.5 L726.5,478.2 L729.6,506.3 L732.5,509.9 L735.6,492.6 L738.5,502.7 L741.6,519.5 L744.8,523.1 L747.6,509.9 L750.8,481.1 L753.6,501.5 L756.5,495.5 L759.6,507.5 L762.5,518.3 L765.7,488.3 L768.1,497.9 L774.1,503.9 L777.0,520.7 L780.1,502.7 L783.0,478.7 L786.1,496.7 L789.0,500.3 L792.1,494.3 L795.0,518.3 L798.1,503.9 L801.0,514.7 L804.2,516.6 L807.0,509.9 L810.2,502.7 L814.2,494.3 L819.0,471.5 L822.2,457.1 L825.1,478.7 L829.4,476.3 L834.2,487.1 L838.3,482.3 L841.4,490.7 L844.3,507.5 L847.4,500.3 L850.3,493.1 L853.4,509.9 L856.3,502.7 L859.4,519.5 L862.3,509.9 L865.4,501.5 L868.3,519.5 L871.4,502.7 L874.3,505.1 L877.4,511.1 L880.3,503.9 L883.4,505.1 L886.3,490.7 L889.4,491.9 L892.3,483.5 L895.4,500.3 L901.4,501.5 L904.3,517.1 L907.4,488.3 L910.3,500.3 L913.4,519.5 L916.3,513.5 L919.5,515.9 L922.3,523.8 L925.5,521.9 L929.5,511.1 L933.1,517.1 L937.5,515.9 L940.4,535.1 L943.5,527.9 L948.8,529.1 L952.4,534.4 L955.5,529.1 L958.4,532.7 L961.5,527.9 L964.4,526.7 L967.5,490.7 L970.6,485.9 L973.5,505.1 L976.4,530.3 L979.5,531.5 L982.6,533.5 L986.0,529.1 L988.9,532.7 L992.0,529.1 L995.1,533.9 L1001.1,533.9 L1004.0,529.1 L1007.1,500.3 L1010.0,509.9 L1013.1,497.9 L1016.0,495.0 L1019.1,509.9 L1022.5,515.9 L1025.6,514.7 L1028.5,518.3 L1031.6,511.1 L1034.8,523.1 L1037.6,505.1 L1040.8,511.1 L1043.6,520.7 L1046.5,521.9 L1049.6,529.1 L1052.5,529.8 L1055.7,526.7" fill="none" stroke="#000" stroke-width="2.4" stroke-linejoin="round" />
</g>
<g shape-rendering="crispEdges">
<line x1="188" y1="76.5" x2="1055" y2="76.5" stroke="#00f" stroke-width="1" stroke-dasharray="18,6"/>
<rect x="187" y="535" width="872" height="2" fill="#808080"/>
<line x1="189" y1="535.5" x2="1056" y2="535.5" stroke="#0ff" stroke-dasharray="1,2"/>
<line x1="188.5" y1="537" x2="188.5" y2="541" stroke="#808080"/>
<line x1="224.5" y1="537" x2="224.5" y2="541" stroke="#808080"/>
<line x1="260.5" y1="537" x2="260.5" y2="541" stroke="#808080"/>
<line x1="297.5" y1="537" x2="297.5" y2="541" stroke="#808080"/>
<line x1="333.5" y1="537" x2="333.5" y2="541" stroke="#808080"/>
<line x1="369.5" y1="537" x2="369.5" y2="541" stroke="#808080"/>
<line x1="405.5" y1="537" x2="405.5" y2="541" stroke="#808080"/>
<line x1="442.5" y1="537" x2="442.5" y2="541" stroke="#808080"/>
<line x1="478.5" y1="537" x2="478.5" y2="541" stroke="#808080"/>
<line x1="514.5" y1="537" x2="514.5" y2="541" stroke="#808080"/>
<line x1="551.5" y1="537" x2="551.5" y2="541" stroke="#808080"/>
<line x1="587.5" y1="537" x2="587.5" y2="541" stroke="#808080"/>
<line x1="623.5" y1="537" x2="623.5" y2="541" stroke="#808080"/>
<line x1="659.5" y1="537" x2="659.5" y2="541" stroke="#808080"/>
<line x1="696.5" y1="537" x2="696.5" y2="541" stroke="#808080"/>
<line x1="732.5" y1="537" x2="732.5" y2="541" stroke="#808080"/>
<line x1="768.5" y1="537" x2="768.5" y2="541" stroke="#808080"/>
<line x1="804.5" y1="537" x2="804.5" y2="541" stroke="#808080"/>
<line x1="841.5" y1="537" x2="841.5" y2="541" stroke="#808080"/>
<line x1="877.5" y1="537" x2="877.5" y2="541" stroke="#808080"/>
<line x1="913.5" y1="537" x2="913.5" y2="541" stroke="#808080"/>
<line x1="949.5" y1="537" x2="949.5" y2="541" stroke="#808080"/>
<line x1="986.5" y1="537" x2="986.5" y2="541" stroke="#808080"/>
<line x1="1022.5" y1="537" x2="1022.5" y2="541" stroke="#808080"/>
<line x1="1058.5" y1="537" x2="1058.5" y2="541" stroke="#808080"/>
<rect x="395" y="536" width="2" height="9" fill="#ff0"/>
<rect x="929" y="532" width="2" height="14" fill="#ff0"/>
<rect x="927.5" y="559.5" width="5" height="5" fill="none" stroke="#ff0"/>
</g>
<text class="s" transform="translate(188.6,555.0) scale(0.895,1)" text-anchor="middle" fill="#000">00:00</text>
<text class="s" transform="translate(224.9,555.0) scale(0.895,1)" text-anchor="middle" fill="#000">01:00</text>
<text class="s" transform="translate(261.1,555.0) scale(0.895,1)" text-anchor="middle" fill="#000">02:00</text>
<text class="s" transform="translate(297.4,555.0) scale(0.895,1)" text-anchor="middle" fill="#000">03:00</text>
<text class="s" transform="translate(333.7,555.0) scale(0.895,1)" text-anchor="middle" fill="#000">04:00</text>
<text class="s" transform="translate(370.0,555.0) scale(0.895,1)" text-anchor="middle" fill="#000">05:00</text>
<text class="s" transform="translate(406.2,555.0) scale(0.895,1)" text-anchor="middle" fill="#000">06:00</text>
<text class="s" transform="translate(442.5,555.0) scale(0.895,1)" text-anchor="middle" fill="#000">07:00</text>
<text class="s" transform="translate(478.8,555.0) scale(0.895,1)" text-anchor="middle" fill="#000">08:00</text>
<text class="s" transform="translate(515.0,555.0) scale(0.895,1)" text-anchor="middle" fill="#000">09:00</text>
<text class="s" transform="translate(551.3,555.0) scale(0.895,1)" text-anchor="middle" fill="#000">10:00</text>
<text class="s" transform="translate(587.6,555.0) scale(0.895,1)" text-anchor="middle" fill="#000">11:00</text>
<text class="s" transform="translate(623.8,555.0) scale(0.895,1)" text-anchor="middle" fill="#000">12:00</text>
<text class="s" transform="translate(660.1,555.0) scale(0.895,1)" text-anchor="middle" fill="#000">13:00</text>
<text class="s" transform="translate(696.4,555.0) scale(0.895,1)" text-anchor="middle" fill="#000">14:00</text>
<text class="s" transform="translate(732.7,555.0) scale(0.895,1)" text-anchor="middle" fill="#000">15:00</text>
<text class="s" transform="translate(768.9,555.0) scale(0.895,1)" text-anchor="middle" fill="#000">16:00</text>
<text class="s" transform="translate(805.2,555.0) scale(0.895,1)" text-anchor="middle" fill="#000">17:00</text>
<text class="s" transform="translate(841.5,555.0) scale(0.895,1)" text-anchor="middle" fill="#000">18:00</text>
<text class="s" transform="translate(877.7,555.0) scale(0.895,1)" text-anchor="middle" fill="#000">19:00</text>
<text class="s" transform="translate(914.0,555.0) scale(0.895,1)" text-anchor="middle" fill="#000">20:00</text>
<text class="s" transform="translate(950.3,555.0) scale(0.895,1)" text-anchor="middle" fill="#000">21:00</text>
<text class="s" transform="translate(986.5,555.0) scale(0.895,1)" text-anchor="middle" fill="#000">22:00</text>
<text class="s" transform="translate(1022.8,555.0) scale(0.895,1)" text-anchor="middle" fill="#000">23:00</text>
<text class="s" transform="translate(1059.1,555.0) scale(0.895,1)" text-anchor="middle" fill="#000">24:00</text>
<text class="s" transform="translate(389.5,566.0) scale(0.895,1)" text-anchor="end" fill="#000">05:44</text>
<text class="s" transform="translate(923.5,566.0) scale(0.895,1)" text-anchor="end" fill="#000">20:27</text>
<g stroke="#ffff80" stroke-width="1"><line x1="391" y1="562" x2="402" y2="562"/><line x1="396.5" y1="556.5" x2="396.5" y2="567.5"/><line x1="392.5" y1="558" x2="400.5" y2="566"/><line x1="392.5" y1="566" x2="400.5" y2="558"/></g><circle cx="396.3" cy="561.8" r="3.2" fill="#ff0"/>
<g shape-rendering="crispEdges" stroke="#808080"><line x1="40.5" y1="76" x2="40.5" y2="536"/>
<line x1="36" y1="536.5" x2="44" y2="536.5"/>
<line x1="36" y1="494.5" x2="40" y2="494.5"/>
<line x1="36" y1="452.5" x2="40" y2="452.5"/>
<line x1="36" y1="411.5" x2="40" y2="411.5"/>
<line x1="36" y1="369.5" x2="40" y2="369.5"/>
<line x1="36" y1="327.5" x2="40" y2="327.5"/>
<line x1="36" y1="285.5" x2="40" y2="285.5"/>
<line x1="36" y1="243.5" x2="40" y2="243.5"/>
<line x1="36" y1="201.5" x2="40" y2="201.5"/>
<line x1="36" y1="160.5" x2="40" y2="160.5"/>
<line x1="36" y1="118.5" x2="40" y2="118.5"/>
<line x1="36" y1="76.5" x2="44" y2="76.5"/>
</g>
<text class="s" transform="translate(34.2,540.8) scale(0.895,1)" text-anchor="end" fill="#f00">-10.0</text>
<text class="s" transform="translate(34.2,498.8) scale(0.895,1)" text-anchor="end" fill="#f00">-5.0</text>
<text class="s" transform="translate(34.2,456.8) scale(0.895,1)" text-anchor="end" fill="#f00">0.0</text>
<text class="s" transform="translate(34.2,415.8) scale(0.895,1)" text-anchor="end" fill="#f00">5.0</text>
<text class="s" transform="translate(34.2,373.8) scale(0.895,1)" text-anchor="end" fill="#f00">10.0</text>
<text class="s" transform="translate(34.2,331.8) scale(0.895,1)" text-anchor="end" fill="#f00">15.0</text>
<text class="s" transform="translate(34.2,289.8) scale(0.895,1)" text-anchor="end" fill="#f00">20.0</text>
<text class="s" transform="translate(34.2,247.8) scale(0.895,1)" text-anchor="end" fill="#f00">25.0</text>
<text class="s" transform="translate(34.2,205.8) scale(0.895,1)" text-anchor="end" fill="#f00">30.0</text>
<text class="s" transform="translate(34.2,164.8) scale(0.895,1)" text-anchor="end" fill="#f00">35.0</text>
<text class="s" transform="translate(34.2,122.8) scale(0.895,1)" text-anchor="end" fill="#f00">40.0</text>
<text class="s" transform="translate(34.2,80.8) scale(0.895,1)" text-anchor="end" fill="#f00">45.0</text>
<text class="s" transform="translate(30.5,65.0) scale(0.895,1)" text-anchor="end" fill="#f00">°C</text>
<g shape-rendering="crispEdges" stroke="#808080"><line x1="77.5" y1="76" x2="77.5" y2="536"/>
<line x1="73" y1="536.5" x2="81" y2="536.5"/>
<line x1="73" y1="513.5" x2="77" y2="513.5"/>
<line x1="73" y1="490.5" x2="77" y2="490.5"/>
<line x1="73" y1="467.5" x2="77" y2="467.5"/>
<line x1="73" y1="444.5" x2="77" y2="444.5"/>
<line x1="73" y1="421.5" x2="77" y2="421.5"/>
<line x1="73" y1="398.5" x2="77" y2="398.5"/>
<line x1="73" y1="375.5" x2="77" y2="375.5"/>
<line x1="73" y1="352.5" x2="77" y2="352.5"/>
<line x1="73" y1="329.5" x2="77" y2="329.5"/>
<line x1="73" y1="306.5" x2="77" y2="306.5"/>
<line x1="73" y1="283.5" x2="77" y2="283.5"/>
<line x1="73" y1="260.5" x2="77" y2="260.5"/>
<line x1="73" y1="237.5" x2="77" y2="237.5"/>
<line x1="73" y1="214.5" x2="77" y2="214.5"/>
<line x1="73" y1="191.5" x2="77" y2="191.5"/>
<line x1="73" y1="168.5" x2="77" y2="168.5"/>
<line x1="73" y1="145.5" x2="77" y2="145.5"/>
<line x1="73" y1="122.5" x2="77" y2="122.5"/>
<line x1="73" y1="99.5" x2="77" y2="99.5"/>
<line x1="73" y1="76.5" x2="81" y2="76.5"/>
</g>
<text class="s" transform="translate(71.2,540.8) scale(0.895,1)" text-anchor="end" fill="#00f">0</text>
<text class="s" transform="translate(71.2,517.8) scale(0.895,1)" text-anchor="end" fill="#00f">10</text>
<text class="s" transform="translate(71.2,494.8) scale(0.895,1)" text-anchor="end" fill="#00f">20</text>
<text class="s" transform="translate(71.2,471.8) scale(0.895,1)" text-anchor="end" fill="#00f">30</text>
<text class="s" transform="translate(71.2,448.8) scale(0.895,1)" text-anchor="end" fill="#00f">40</text>
<text class="s" transform="translate(71.2,425.8) scale(0.895,1)" text-anchor="end" fill="#00f">50</text>
<text class="s" transform="translate(71.2,402.8) scale(0.895,1)" text-anchor="end" fill="#00f">60</text>
<text class="s" transform="translate(71.2,379.8) scale(0.895,1)" text-anchor="end" fill="#00f">70</text>
<text class="s" transform="translate(71.2,356.8) scale(0.895,1)" text-anchor="end" fill="#00f">80</text>
<text class="s" transform="translate(71.2,333.8) scale(0.895,1)" text-anchor="end" fill="#00f">90</text>
<text class="s" transform="translate(71.2,310.8) scale(0.895,1)" text-anchor="end" fill="#00f">100</text>
<text class="s" transform="translate(71.2,287.8) scale(0.895,1)" text-anchor="end" fill="#00f">110</text>
<text class="s" transform="translate(71.2,264.8) scale(0.895,1)" text-anchor="end" fill="#00f">120</text>
<text class="s" transform="translate(71.2,241.8) scale(0.895,1)" text-anchor="end" fill="#00f">130</text>
<text class="s" transform="translate(71.2,218.8) scale(0.895,1)" text-anchor="end" fill="#00f">140</text>
<text class="s" transform="translate(71.2,195.8) scale(0.895,1)" text-anchor="end" fill="#00f">150</text>
<text class="s" transform="translate(71.2,172.8) scale(0.895,1)" text-anchor="end" fill="#00f">160</text>
<text class="s" transform="translate(71.2,149.8) scale(0.895,1)" text-anchor="end" fill="#00f">170</text>
<text class="s" transform="translate(71.2,126.8) scale(0.895,1)" text-anchor="end" fill="#00f">180</text>
<text class="s" transform="translate(71.2,103.8) scale(0.895,1)" text-anchor="end" fill="#00f">190</text>
<text class="s" transform="translate(71.2,80.8) scale(0.895,1)" text-anchor="end" fill="#00f">200</text>
<text class="s" transform="translate(67.0,65.0) scale(0.895,1)" text-anchor="end" fill="#00f">cb</text>
<g shape-rendering="crispEdges" stroke="#808080"><line x1="114.5" y1="76" x2="114.5" y2="536"/>
<line x1="110" y1="536.5" x2="118" y2="536.5"/>
<line x1="110" y1="444.5" x2="114" y2="444.5"/>
<line x1="110" y1="352.5" x2="114" y2="352.5"/>
<line x1="110" y1="260.5" x2="114" y2="260.5"/>
<line x1="110" y1="168.5" x2="114" y2="168.5"/>
<line x1="110" y1="76.5" x2="118" y2="76.5"/>
</g>
<text class="s" transform="translate(108.2,540.8) scale(0.895,1)" text-anchor="end" fill="#0ff">0.0</text>
<text class="s" transform="translate(108.2,448.8) scale(0.895,1)" text-anchor="end" fill="#0ff">1.0</text>
<text class="s" transform="translate(108.2,356.8) scale(0.895,1)" text-anchor="end" fill="#0ff">2.0</text>
<text class="s" transform="translate(108.2,264.8) scale(0.895,1)" text-anchor="end" fill="#0ff">3.0</text>
<text class="s" transform="translate(108.2,172.8) scale(0.895,1)" text-anchor="end" fill="#0ff">4.0</text>
<text class="s" transform="translate(108.2,80.8) scale(0.895,1)" text-anchor="end" fill="#0ff">5.0</text>
<text class="s" transform="translate(104.0,65.0) scale(0.895,1)" text-anchor="end" fill="#0ff">l/m²</text>
<g shape-rendering="crispEdges" stroke="#808080"><line x1="151.5" y1="76" x2="151.5" y2="536"/>
<line x1="147" y1="536.5" x2="155" y2="536.5"/>
<line x1="147" y1="498.5" x2="151" y2="498.5"/>
<line x1="147" y1="459.5" x2="151" y2="459.5"/>
<line x1="147" y1="421.5" x2="151" y2="421.5"/>
<line x1="147" y1="383.5" x2="151" y2="383.5"/>
<line x1="147" y1="344.5" x2="151" y2="344.5"/>
<line x1="147" y1="306.5" x2="151" y2="306.5"/>
<line x1="147" y1="268.5" x2="151" y2="268.5"/>
<line x1="147" y1="229.5" x2="151" y2="229.5"/>
<line x1="147" y1="191.5" x2="151" y2="191.5"/>
<line x1="147" y1="153.5" x2="151" y2="153.5"/>
<line x1="147" y1="114.5" x2="151" y2="114.5"/>
<line x1="147" y1="76.5" x2="155" y2="76.5"/>
</g>
<clipPath id="cd"><rect x="115" y="60" width="40" height="490"/></clipPath><g clip-path="url(#cd)">
<text class="s" transform="translate(144.5,540.8) scale(0.895,1)" text-anchor="end" fill="#808080">N</text>
<text class="s" transform="translate(119.3,540.8) scale(0.895,1)" fill="#808080">0</text>
<text class="s" transform="translate(145.3,502.8) scale(0.895,1)" text-anchor="end" fill="#808080">30</text>
<text class="s" transform="translate(145.3,463.8) scale(0.895,1)" text-anchor="end" fill="#808080">60</text>
<text class="s" transform="translate(144.5,425.8) scale(0.895,1)" text-anchor="end" fill="#808080">O</text>
<text class="s" transform="translate(132.0,425.8) scale(0.895,1)" text-anchor="end" fill="#808080">90</text>
<text class="s" transform="translate(145.3,387.8) scale(0.895,1)" text-anchor="end" fill="#808080">120</text>
<text class="s" transform="translate(145.3,348.8) scale(0.895,1)" text-anchor="end" fill="#808080">150</text>
<text class="s" transform="translate(144.5,310.8) scale(0.895,1)" text-anchor="end" fill="#808080">S</text>
<text class="s" transform="translate(134.6,310.8) scale(0.895,1)" text-anchor="end" fill="#808080">180</text>
<text class="s" transform="translate(145.3,272.8) scale(0.895,1)" text-anchor="end" fill="#808080">210</text>
<text class="s" transform="translate(145.3,233.8) scale(0.895,1)" text-anchor="end" fill="#808080">240</text>
<text class="s" transform="translate(144.5,195.8) scale(0.895,1)" text-anchor="end" fill="#808080">W</text>
<text class="s" transform="translate(131.3,195.8) scale(0.895,1)" text-anchor="end" fill="#808080">270</text>
<text class="s" transform="translate(145.3,157.8) scale(0.895,1)" text-anchor="end" fill="#808080">300</text>
<text class="s" transform="translate(145.3,118.8) scale(0.895,1)" text-anchor="end" fill="#808080">330</text>
<text class="s" transform="translate(144.5,80.8) scale(0.895,1)" text-anchor="end" fill="#808080">N</text>
<text class="s" transform="translate(134.6,80.8) scale(0.895,1)" text-anchor="end" fill="#808080">360</text>
</g>
<text class="s" transform="translate(142.0,65.0) scale(0.895,1)" text-anchor="end" fill="#808080">°</text>
<line x1="184" y1="536.5" x2="187" y2="536.5" stroke="#808080" shape-rendering="crispEdges"/>
<text class="s" transform="translate(182.0,540.8) scale(0.895,1)" text-anchor="end" fill="#f0f">0.0</text>
<line x1="184" y1="490.5" x2="187" y2="490.5" stroke="#808080" shape-rendering="crispEdges"/>
<text class="s" transform="translate(182.0,494.8) scale(0.895,1)" text-anchor="end" fill="#f0f">1.0</text>
<line x1="184" y1="444.5" x2="187" y2="444.5" stroke="#808080" shape-rendering="crispEdges"/>
<text class="s" transform="translate(182.0,448.8) scale(0.895,1)" text-anchor="end" fill="#f0f">2.0</text>
<line x1="184" y1="398.5" x2="187" y2="398.5" stroke="#808080" shape-rendering="crispEdges"/>
<text class="s" transform="translate(182.0,402.8) scale(0.895,1)" text-anchor="end" fill="#f0f">3.0</text>
<line x1="184" y1="352.5" x2="187" y2="352.5" stroke="#808080" shape-rendering="crispEdges"/>
<text class="s" transform="translate(182.0,356.8) scale(0.895,1)" text-anchor="end" fill="#f0f">4.0</text>
<line x1="184" y1="306.5" x2="187" y2="306.5" stroke="#808080" shape-rendering="crispEdges"/>
<text class="s" transform="translate(182.0,310.8) scale(0.895,1)" text-anchor="end" fill="#f0f">5.0</text>
<line x1="184" y1="260.5" x2="187" y2="260.5" stroke="#808080" shape-rendering="crispEdges"/>
<text class="s" transform="translate(182.0,264.8) scale(0.895,1)" text-anchor="end" fill="#f0f">6.0</text>
<line x1="184" y1="214.5" x2="187" y2="214.5" stroke="#808080" shape-rendering="crispEdges"/>
<text class="s" transform="translate(182.0,218.8) scale(0.895,1)" text-anchor="end" fill="#f0f">7.0</text>
<line x1="184" y1="168.5" x2="187" y2="168.5" stroke="#808080" shape-rendering="crispEdges"/>
<text class="s" transform="translate(182.0,172.8) scale(0.895,1)" text-anchor="end" fill="#f0f">8.0</text>
<line x1="184" y1="122.5" x2="187" y2="122.5" stroke="#808080" shape-rendering="crispEdges"/>
<text class="s" transform="translate(182.0,126.8) scale(0.895,1)" text-anchor="end" fill="#f0f">9.0</text>
<line x1="184" y1="76.5" x2="187" y2="76.5" stroke="#808080" shape-rendering="crispEdges"/>
<text class="s" transform="translate(182.0,80.8) scale(0.895,1)" text-anchor="end" fill="#f0f">10.0</text>
<text class="s" transform="translate(178.0,65.0) scale(0.895,1)" text-anchor="end" fill="#f0f">UV-I</text>
<g shape-rendering="crispEdges" stroke="#808080">
<line x1="1059" y1="536.5" x2="1064" y2="536.5"/>
<line x1="1059" y1="490.5" x2="1064" y2="490.5"/>
<line x1="1059" y1="444.5" x2="1064" y2="444.5"/>
<line x1="1059" y1="398.5" x2="1064" y2="398.5"/>
<line x1="1059" y1="352.5" x2="1064" y2="352.5"/>
<line x1="1059" y1="306.5" x2="1064" y2="306.5"/>
<line x1="1059" y1="260.5" x2="1064" y2="260.5"/>
<line x1="1059" y1="214.5" x2="1064" y2="214.5"/>
<line x1="1059" y1="168.5" x2="1064" y2="168.5"/>
<line x1="1059" y1="122.5" x2="1064" y2="122.5"/>
<line x1="1059" y1="76.5" x2="1064" y2="76.5"/>
</g>
<text class="s" transform="translate(1064.4,540.8) scale(0.895,1)" fill="#00f">0</text>
<text class="s" transform="translate(1064.4,494.8) scale(0.895,1)" fill="#00f">10</text>
<text class="s" transform="translate(1064.4,448.8) scale(0.895,1)" fill="#00f">20</text>
<text class="s" transform="translate(1064.4,402.8) scale(0.895,1)" fill="#00f">30</text>
<text class="s" transform="translate(1064.4,356.8) scale(0.895,1)" fill="#00f">40</text>
<text class="s" transform="translate(1064.4,310.8) scale(0.895,1)" fill="#00f">50</text>
<text class="s" transform="translate(1064.4,264.8) scale(0.895,1)" fill="#00f">60</text>
<text class="s" transform="translate(1064.4,218.8) scale(0.895,1)" fill="#00f">70</text>
<text class="s" transform="translate(1064.4,172.8) scale(0.895,1)" fill="#00f">80</text>
<text class="s" transform="translate(1064.4,126.8) scale(0.895,1)" fill="#00f">90</text>
<text class="s" transform="translate(1064.4,80.8) scale(0.895,1)" fill="#00f">100</text>
<text class="s" transform="translate(1059.0,65.0) scale(0.895,1)" fill="#00f">%</text>
<g shape-rendering="crispEdges" stroke="#808080">
<line x1="1095.5" y1="76" x2="1095.5" y2="536"/>
<line x1="1091" y1="536.5" x2="1100" y2="536.5"/>
<line x1="1095" y1="478.5" x2="1100" y2="478.5"/>
<line x1="1095" y1="421.5" x2="1100" y2="421.5"/>
<line x1="1095" y1="364.5" x2="1100" y2="364.5"/>
<line x1="1095" y1="306.5" x2="1100" y2="306.5"/>
<line x1="1095" y1="248.5" x2="1100" y2="248.5"/>
<line x1="1095" y1="191.5" x2="1100" y2="191.5"/>
<line x1="1095" y1="134.5" x2="1100" y2="134.5"/>
<line x1="1091" y1="76.5" x2="1100" y2="76.5"/>
</g>
<text class="s" transform="translate(1101.4,540.8) scale(0.895,1)" fill="#0f0">990</text>
<text class="s" transform="translate(1101.4,482.8) scale(0.895,1)" fill="#0f0">995</text>
<text class="s" transform="translate(1101.4,425.8) scale(0.895,1)" fill="#0f0">1000</text>
<text class="s" transform="translate(1101.4,368.8) scale(0.895,1)" fill="#0f0">1005</text>
<text class="s" transform="translate(1101.4,310.8) scale(0.895,1)" fill="#0f0">1010</text>
<text class="s" transform="translate(1101.4,252.8) scale(0.895,1)" fill="#0f0">1015</text>
<text class="s" transform="translate(1101.4,195.8) scale(0.895,1)" fill="#0f0">1020</text>
<text class="s" transform="translate(1101.4,138.8) scale(0.895,1)" fill="#0f0">1025</text>
<text class="s" transform="translate(1101.4,80.8) scale(0.895,1)" fill="#0f0">1030</text>
<text class="s" transform="translate(1095.5,65.0) scale(0.895,1)" fill="#0f0">hPa</text>
<g shape-rendering="crispEdges" stroke="#808080">
<line x1="1132.5" y1="76" x2="1132.5" y2="536"/>
<line x1="1128" y1="536.5" x2="1137" y2="536.5"/>
<line x1="1132" y1="498.5" x2="1137" y2="498.5"/>
<line x1="1132" y1="459.5" x2="1137" y2="459.5"/>
<line x1="1132" y1="421.5" x2="1137" y2="421.5"/>
<line x1="1132" y1="383.5" x2="1137" y2="383.5"/>
<line x1="1132" y1="344.5" x2="1137" y2="344.5"/>
<line x1="1132" y1="306.5" x2="1137" y2="306.5"/>
<line x1="1132" y1="268.5" x2="1137" y2="268.5"/>
<line x1="1132" y1="229.5" x2="1137" y2="229.5"/>
<line x1="1132" y1="191.5" x2="1137" y2="191.5"/>
<line x1="1132" y1="153.5" x2="1137" y2="153.5"/>
<line x1="1132" y1="114.5" x2="1137" y2="114.5"/>
<line x1="1128" y1="76.5" x2="1137" y2="76.5"/>
</g>
<text class="s" transform="translate(1138.4,540.8) scale(0.895,1)" fill="#000">0.0</text>
<text class="s" transform="translate(1138.4,502.8) scale(0.895,1)" fill="#000">5.0</text>
<text class="s" transform="translate(1138.4,463.8) scale(0.895,1)" fill="#000">10.0</text>
<text class="s" transform="translate(1138.4,425.8) scale(0.895,1)" fill="#000">15.0</text>
<text class="s" transform="translate(1138.4,387.8) scale(0.895,1)" fill="#000">20.0</text>
<text class="s" transform="translate(1138.4,348.8) scale(0.895,1)" fill="#000">25.0</text>
<text class="s" transform="translate(1138.4,310.8) scale(0.895,1)" fill="#000">30.0</text>
<text class="s" transform="translate(1138.4,272.8) scale(0.895,1)" fill="#000">35.0</text>
<text class="s" transform="translate(1138.4,233.8) scale(0.895,1)" fill="#000">40.0</text>
<text class="s" transform="translate(1138.4,195.8) scale(0.895,1)" fill="#000">45.0</text>
<text class="s" transform="translate(1138.4,157.8) scale(0.895,1)" fill="#000">50.0</text>
<text class="s" transform="translate(1138.4,118.8) scale(0.895,1)" fill="#000">55.0</text>
<text class="s" transform="translate(1138.4,80.8) scale(0.895,1)" fill="#000">60.0</text>
<text class="s" transform="translate(1132.5,65.0) scale(0.895,1)" fill="#000">km/h</text>
<g shape-rendering="crispEdges" stroke="#808080">
<line x1="1169.5" y1="76" x2="1169.5" y2="536"/>
<line x1="1165" y1="536.5" x2="1174" y2="536.5"/>
<line x1="1169" y1="490.5" x2="1174" y2="490.5"/>
<line x1="1169" y1="444.5" x2="1174" y2="444.5"/>
<line x1="1169" y1="398.5" x2="1174" y2="398.5"/>
<line x1="1169" y1="352.5" x2="1174" y2="352.5"/>
<line x1="1169" y1="306.5" x2="1174" y2="306.5"/>
<line x1="1169" y1="260.5" x2="1174" y2="260.5"/>
<line x1="1169" y1="214.5" x2="1174" y2="214.5"/>
<line x1="1169" y1="168.5" x2="1174" y2="168.5"/>
<line x1="1169" y1="122.5" x2="1174" y2="122.5"/>
<line x1="1165" y1="76.5" x2="1174" y2="76.5"/>
</g>
<text class="s" transform="translate(1175.4,540.8) scale(0.895,1)" fill="#ff0">0</text>
<text class="s" transform="translate(1175.4,494.8) scale(0.895,1)" fill="#ff0">10</text>
<text class="s" transform="translate(1175.4,448.8) scale(0.895,1)" fill="#ff0">20</text>
<text class="s" transform="translate(1175.4,402.8) scale(0.895,1)" fill="#ff0">30</text>
<text class="s" transform="translate(1175.4,356.8) scale(0.895,1)" fill="#ff0">40</text>
<text class="s" transform="translate(1175.4,310.8) scale(0.895,1)" fill="#ff0">50</text>
<text class="s" transform="translate(1175.4,264.8) scale(0.895,1)" fill="#ff0">60</text>
<text class="s" transform="translate(1175.4,218.8) scale(0.895,1)" fill="#ff0">70</text>
<text class="s" transform="translate(1175.4,172.8) scale(0.895,1)" fill="#ff0">80</text>
<text class="s" transform="translate(1175.4,126.8) scale(0.895,1)" fill="#ff0">90</text>
<text class="s" transform="translate(1175.4,80.8) scale(0.895,1)" fill="#ff0">100</text>
<text class="s" transform="translate(1169.5,65.0) scale(0.895,1)" fill="#ff0">min</text>
<g shape-rendering="crispEdges" stroke="#808080">
<line x1="1206.5" y1="76" x2="1206.5" y2="536"/>
<line x1="1202" y1="536.5" x2="1211" y2="536.5"/>
<line x1="1206" y1="517.5" x2="1211" y2="517.5"/>
<line x1="1206" y1="498.5" x2="1211" y2="498.5"/>
<line x1="1206" y1="478.5" x2="1211" y2="478.5"/>
<line x1="1206" y1="459.5" x2="1211" y2="459.5"/>
<line x1="1206" y1="440.5" x2="1211" y2="440.5"/>
<line x1="1206" y1="421.5" x2="1211" y2="421.5"/>
<line x1="1206" y1="402.5" x2="1211" y2="402.5"/>
<line x1="1206" y1="383.5" x2="1211" y2="383.5"/>
<line x1="1206" y1="364.5" x2="1211" y2="364.5"/>
<line x1="1206" y1="344.5" x2="1211" y2="344.5"/>
<line x1="1206" y1="325.5" x2="1211" y2="325.5"/>
<line x1="1206" y1="306.5" x2="1211" y2="306.5"/>
<line x1="1206" y1="287.5" x2="1211" y2="287.5"/>
<line x1="1206" y1="268.5" x2="1211" y2="268.5"/>
<line x1="1206" y1="248.5" x2="1211" y2="248.5"/>
<line x1="1206" y1="229.5" x2="1211" y2="229.5"/>
<line x1="1206" y1="210.5" x2="1211" y2="210.5"/>
<line x1="1206" y1="191.5" x2="1211" y2="191.5"/>
<line x1="1206" y1="172.5" x2="1211" y2="172.5"/>
<line x1="1206" y1="153.5" x2="1211" y2="153.5"/>
<line x1="1206" y1="134.5" x2="1211" y2="134.5"/>
<line x1="1206" y1="114.5" x2="1211" y2="114.5"/>
<line x1="1206" y1="95.5" x2="1211" y2="95.5"/>
<line x1="1202" y1="76.5" x2="1211" y2="76.5"/>
</g>
<text class="s" transform="translate(1212.4,540.8) scale(0.895,1)" fill="#ff8080">0</text>
<text class="s" transform="translate(1212.4,521.8) scale(0.895,1)" fill="#ff8080">50</text>
<text class="s" transform="translate(1212.4,502.8) scale(0.895,1)" fill="#ff8080">100</text>
<text class="s" transform="translate(1212.4,482.8) scale(0.895,1)" fill="#ff8080">150</text>
<text class="s" transform="translate(1212.4,463.8) scale(0.895,1)" fill="#ff8080">200</text>
<text class="s" transform="translate(1212.4,444.8) scale(0.895,1)" fill="#ff8080">250</text>
<text class="s" transform="translate(1212.4,425.8) scale(0.895,1)" fill="#ff8080">300</text>
<text class="s" transform="translate(1212.4,406.8) scale(0.895,1)" fill="#ff8080">350</text>
<text class="s" transform="translate(1212.4,387.8) scale(0.895,1)" fill="#ff8080">400</text>
<text class="s" transform="translate(1212.4,368.8) scale(0.895,1)" fill="#ff8080">450</text>
<text class="s" transform="translate(1212.4,348.8) scale(0.895,1)" fill="#ff8080">500</text>
<text class="s" transform="translate(1212.4,329.8) scale(0.895,1)" fill="#ff8080">550</text>
<text class="s" transform="translate(1212.4,310.8) scale(0.895,1)" fill="#ff8080">600</text>
<text class="s" transform="translate(1212.4,291.8) scale(0.895,1)" fill="#ff8080">650</text>
<text class="s" transform="translate(1212.4,272.8) scale(0.895,1)" fill="#ff8080">700</text>
<text class="s" transform="translate(1212.4,252.8) scale(0.895,1)" fill="#ff8080">750</text>
<text class="s" transform="translate(1212.4,233.8) scale(0.895,1)" fill="#ff8080">800</text>
<text class="s" transform="translate(1212.4,214.8) scale(0.895,1)" fill="#ff8080">850</text>
<text class="s" transform="translate(1212.4,195.8) scale(0.895,1)" fill="#ff8080">900</text>
<text class="s" transform="translate(1212.4,176.8) scale(0.895,1)" fill="#ff8080">950</text>
<text class="s" transform="translate(1212.4,157.8) scale(0.895,1)" fill="#ff8080">1000</text>
<text class="s" transform="translate(1212.4,138.8) scale(0.895,1)" fill="#ff8080">1050</text>
<text class="s" transform="translate(1212.4,118.8) scale(0.895,1)" fill="#ff8080">1100</text>
<text class="s" transform="translate(1212.4,99.8) scale(0.895,1)" fill="#ff8080">1150</text>
<text class="s" transform="translate(1212.4,80.8) scale(0.895,1)" fill="#ff8080">1200</text>
<text class="s" transform="translate(1206.5,65.0) scale(0.895,1)" fill="#ff8080">W/m²</text>
<rect x="1" y="573" width="1249" height="68" fill="#ccfafa" shape-rendering="crispEdges"/>
<rect x="1249" y="572" width="1" height="69" fill="#606060" shape-rendering="crispEdges"/>
<g shape-rendering="crispEdges">
<rect x="87" y="573" width="1" height="68" fill="#e6ffff"/><rect x="88" y="573" width="1" height="68" fill="#606060"/>
<rect x="204" y="573" width="1" height="68" fill="#e6ffff"/><rect x="205" y="573" width="1" height="68" fill="#606060"/>
<rect x="322" y="573" width="1" height="68" fill="#e6ffff"/><rect x="323" y="573" width="1" height="68" fill="#606060"/>
<rect x="440" y="573" width="1" height="68" fill="#e6ffff"/><rect x="441" y="573" width="1" height="68" fill="#606060"/>
<rect x="558" y="573" width="1" height="68" fill="#e6ffff"/><rect x="559" y="573" width="1" height="68" fill="#606060"/>
<rect x="676" y="573" width="1" height="68" fill="#e6ffff"/><rect x="677" y="573" width="1" height="68" fill="#606060"/>
<rect x="794" y="573" width="1" height="68" fill="#e6ffff"/><rect x="795" y="573" width="1" height="68" fill="#606060"/>
<rect x="912" y="573" width="1" height="68" fill="#e6ffff"/><rect x="913" y="573" width="1" height="68" fill="#606060"/>
</g>
<text class="b" transform="translate(9.0,591.0) scale(0.967,1)" fill="#000">Sensor</text>
<text class="b" transform="translate(9.0,607.0) scale(0.967,1)" fill="#000">MinWert</text>
<text class="b" transform="translate(9.0,623.0) scale(0.967,1)" fill="#000">MaxWert</text>
<text class="b" transform="translate(9.0,639.0) scale(0.967,1)" fill="#000">Durchschnitt</text>
<text class="b" transform="translate(95.7,591.0) scale(0.967,1)" fill="#000">Temp. 2m</text>
<text class="b" transform="translate(198.1,591.0) scale(0.967,1)" text-anchor="end" fill="#000">°C</text>
<text x="101.4" y="607">06:25</text>
<text x="198.1" y="607" text-anchor="end">20.4</text>
<text x="101.4" y="623">15:25</text>
<text x="198.1" y="623" text-anchor="end">32.2</text>
<text x="198.1" y="639" text-anchor="end">25.97</text>
<text class="b" transform="translate(212.7,591.0) scale(0.967,1)" fill="#000">Feuchte 2m</text>
<text class="b" transform="translate(316.1,591.0) scale(0.967,1)" text-anchor="end" fill="#000">%</text>
<text x="218.4" y="607">15:15</text>
<text x="316.1" y="607" text-anchor="end">42</text>
<text x="218.4" y="623">07:00</text>
<text x="316.1" y="623" text-anchor="end">92</text>
<text x="316.1" y="639" text-anchor="end">65</text>
<text class="b" transform="translate(330.7,591.0) scale(0.967,1)" fill="#000">Luftdruck</text>
<text class="b" transform="translate(434.1,591.0) scale(0.967,1)" text-anchor="end" fill="#000">hPa</text>
<text x="336.4" y="607">05:40</text>
<text x="434.1" y="607" text-anchor="end">1003.9</text>
<text x="336.4" y="623">23:55</text>
<text x="434.1" y="623" text-anchor="end">1007.8</text>
<text x="330.7" y="639">^1.2hPa/h</text>
<text x="434.1" y="639" text-anchor="end">1005.6</text>
<text class="b" transform="translate(448.7,591.0) scale(0.967,1)" fill="#000">Wind</text>
<text class="b" transform="translate(551.7,591.0) scale(0.967,1)" text-anchor="end" fill="#000">km/h</text>
<text x="448.7" y="607">Ø 10 min.</text>
<text x="551.7" y="607" text-anchor="end">1.0</text>
<text x="454.4" y="623">00:40</text>
<text x="551.7" y="623" text-anchor="end">SO 14.8</text>
<text x="454.4" y="639">287.7 km</text>
<text x="551.7" y="639" text-anchor="end">5.2</text>
<text class="b" transform="translate(566.3,591.0) scale(0.967,1)" fill="#000">Windböen</text>
<text class="b" transform="translate(669.7,591.0) scale(0.967,1)" text-anchor="end" fill="#000">km/h</text>
<text x="566.3" y="607">Ø 10 min.</text>
<text x="669.7" y="607" text-anchor="end">4.8</text>
<text x="572.0" y="623">01:50</text>
<text x="669.7" y="623" text-anchor="end">O 29.0</text>
<text x="572.0" y="639">287.7 km</text>
<text x="669.7" y="639" text-anchor="end">12.0</text>
<text class="b" transform="translate(684.3,591.0) scale(0.967,1)" fill="#000">Regen</text>
<text class="b" transform="translate(787.7,591.0) scale(0.967,1)" text-anchor="end" fill="#000">l/m²</text>
<text x="690.0" y="623">22:15</text>
<text x="787.7" y="623" text-anchor="end">0.4</text>
<text x="684.3" y="639">Gesamt:</text>
<text x="787.7" y="639" text-anchor="end">1.0</text>
<text class="b" transform="translate(802.3,591.0) scale(0.967,1)" fill="#000">UV</text>
<text class="b" transform="translate(905.7,591.0) scale(0.967,1)" text-anchor="end" fill="#000">UV-I</text>
<text x="808.0" y="607">23:55</text>
<text x="905.7" y="607" text-anchor="end">0.0</text>
<text x="808.0" y="623">14:00</text>
<text x="905.7" y="623" text-anchor="end">4.7</text>
<text x="905.7" y="639" text-anchor="end">2.7</text>
<text class="b" transform="translate(920.3,591.0) scale(0.967,1)" fill="#000">Solar</text>
<text class="b" transform="translate(1022.3,591.0) scale(0.967,1)" text-anchor="end" fill="#000">W/m²</text>
<text x="920.3" y="607">Elevation</text>
<text x="1022.3" y="607" text-anchor="end">-21.961</text>
<text x="926.0" y="623">13:20</text>
<text x="1022.3" y="623" text-anchor="end">849</text>
<text x="920.3" y="639">7:40 h</text>
<text x="1022.3" y="639" text-anchor="end">353</text>
</svg></body></html>
